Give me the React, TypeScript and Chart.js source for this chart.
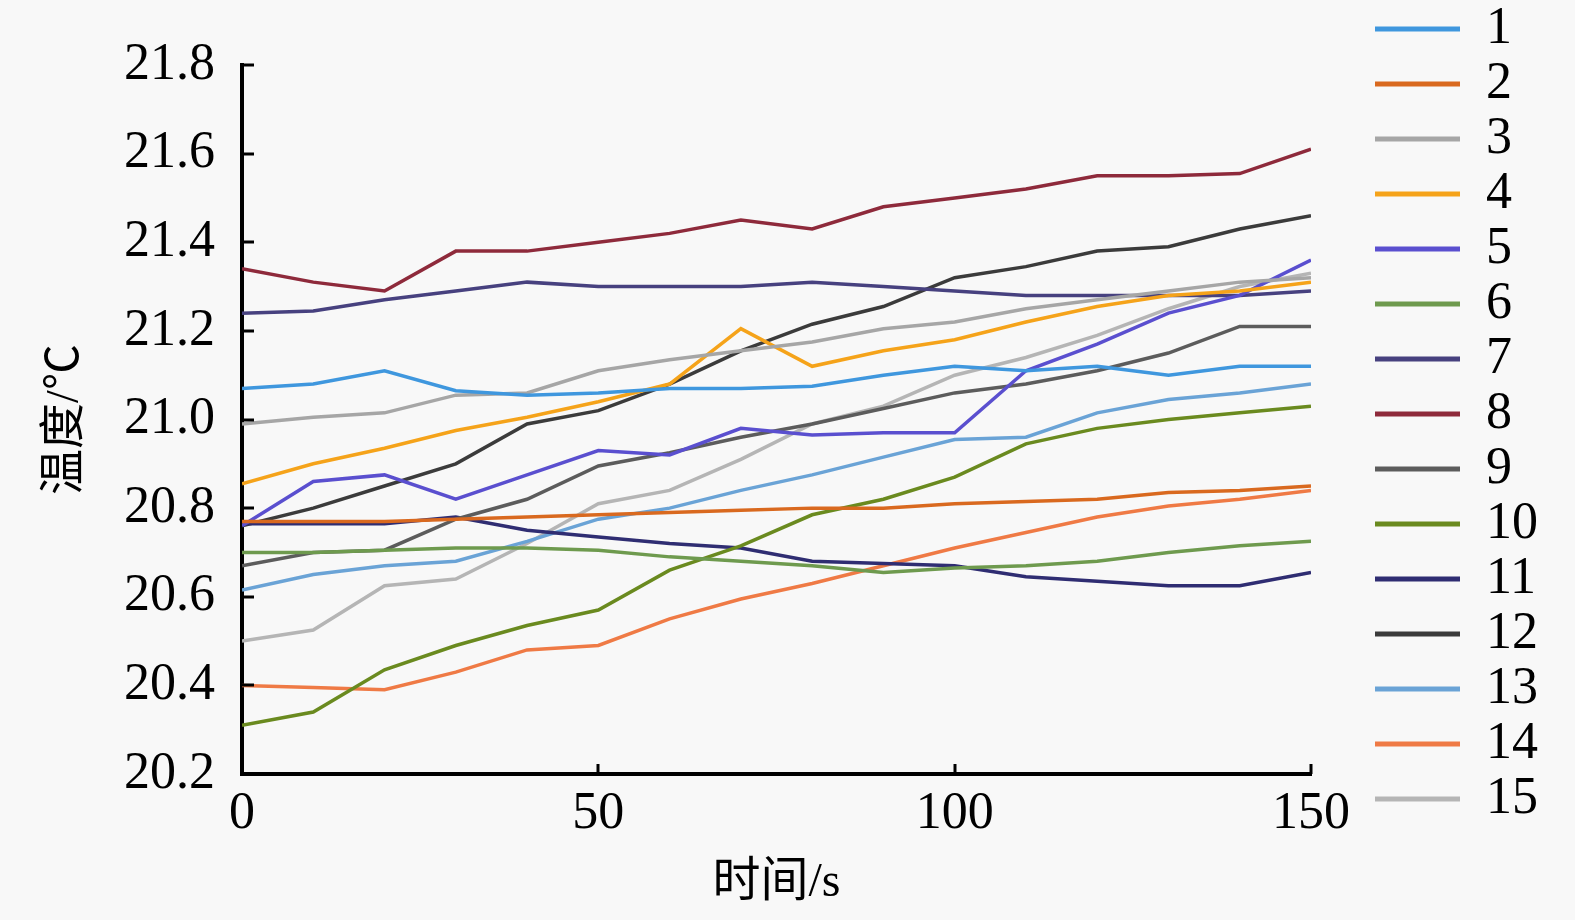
import React, { useEffect, useRef } from 'react';
import { Chart, registerables } from 'chart.js';

Chart.register(...registerables);

const times = [0, 10, 20, 30, 40, 50, 60, 70, 80, 90, 100, 110, 120, 130, 140, 150];

const s1 = [21.07, 21.08, 21.11, 21.065, 21.055, 21.06, 21.07, 21.07, 21.075, 21.1, 21.12, 21.11, 21.12, 21.1, 21.12, 21.12];
const s2 = [20.77, 20.77, 20.77, 20.775, 20.78, 20.785, 20.79, 20.795, 20.8, 20.8, 20.81, 20.815, 20.82, 20.835, 20.84, 20.85];
const s3 = [20.99, 21.005, 21.015, 21.055, 21.06, 21.11, 21.135, 21.155, 21.175, 21.205, 21.22, 21.25, 21.27, 21.29, 21.31, 21.32];
const s4 = [20.855, 20.9, 20.935, 20.975, 21.005, 21.04, 21.08, 21.205, 21.12, 21.155, 21.18, 21.22, 21.255, 21.28, 21.29, 21.31];
const s5 = [20.76, 20.86, 20.875, 20.82, 20.875, 20.93, 20.92, 20.98, 20.965, 20.97, 20.97, 21.11, 21.17, 21.24, 21.28, 21.36];
const s6 = [20.7, 20.7, 20.705, 20.71, 20.71, 20.705, 20.69, 20.68, 20.67, 20.655, 20.665, 20.67, 20.68, 20.7, 20.715, 20.725];
const s7 = [21.24, 21.245, 21.27, 21.29, 21.31, 21.3, 21.3, 21.3, 21.31, 21.3, 21.29, 21.28, 21.28, 21.28, 21.28, 21.29];
const s8 = [21.34, 21.31, 21.29, 21.38, 21.38, 21.4, 21.42, 21.45, 21.43, 21.48, 21.5, 21.52, 21.55, 21.55, 21.555, 21.61];
const s9 = [20.67, 20.7, 20.705, 20.775, 20.82, 20.895, 20.925, 20.96, 20.99, 21.025, 21.06, 21.08, 21.11, 21.15, 21.21, 21.21];
const s10 = [20.31, 20.34, 20.435, 20.49, 20.535, 20.57, 20.66, 20.715, 20.785, 20.82, 20.87, 20.945, 20.98, 21.0, 21.015, 21.03];
const s11 = [20.765, 20.765, 20.765, 20.78, 20.75, 20.735, 20.72, 20.71, 20.68, 20.675, 20.67, 20.645, 20.635, 20.625, 20.625, 20.655];
const s12 = [20.76, 20.8, 20.85, 20.9, 20.99, 21.02, 21.08, 21.155, 21.215, 21.255, 21.32, 21.345, 21.38, 21.39, 21.43, 21.46];
const s13 = [20.615, 20.65, 20.67, 20.68, 20.725, 20.775, 20.8, 20.84, 20.875, 20.915, 20.955, 20.96, 21.015, 21.045, 21.06, 21.08];
const s14 = [20.4, 20.395, 20.39, 20.43, 20.48, 20.49, 20.55, 20.595, 20.63, 20.67, 20.71, 20.745, 20.78, 20.805, 20.82, 20.84];
const s15 = [20.5, 20.525, 20.625, 20.64, 20.72, 20.81, 20.84, 20.91, 20.99, 21.03, 21.1, 21.14, 21.19, 21.25, 21.3, 21.33];

const seriesNames = ['1', '2', '3', '4', '5', '6', '7', '8', '9', '10', '11', '12', '13', '14', '15'];
const seriesValues = [s1, s2, s3, s4, s5, s6, s7, s8, s9, s10, s11, s12, s13, s14, s15];
const seriesColors = [
  '#3f97de', '#d9691f', '#a6a6a6', '#f5a31a', '#5a4fcf',
  '#6e9a4e', '#47417f', '#8e2a3b', '#5c5c5c', '#6a8a1f',
  '#2f2d72', '#3b3b3b', '#6aa3d6', '#ef7a45', '#b5b5b5',
];

const yTicks = [20.2, 20.4, 20.6, 20.8, 21.0, 21.2, 21.4, 21.6, 21.8];
const xTicks = [0, 50, 100, 150];
const xTitle = '时间/s';
const yTitle = '温度/℃';

const serif = '"Liberation Serif", "Times New Roman", "Noto Sans CJK SC", serif';

const inwardTicks = {
  id: 'inwardTicks',
  afterDraw(chart: any) {
    const { ctx, chartArea, scales } = chart;
    ctx.save();
    ctx.strokeStyle = '#000';
    ctx.lineWidth = 3;
    yTicks.forEach((v) => {
      const y = Math.round(scales.y.getPixelForValue(v));
      ctx.beginPath();
      ctx.moveTo(chartArea.left, y);
      ctx.lineTo(chartArea.left + 12, y);
      ctx.stroke();
    });
    xTicks.forEach((v) => {
      const x = Math.round(scales.x.getPixelForValue(v));
      ctx.beginPath();
      ctx.moveTo(x, chartArea.bottom);
      ctx.lineTo(x, chartArea.bottom - 10);
      ctx.stroke();
    });
    ctx.restore();
  },
};

export default function App() {
  const ref = useRef<HTMLCanvasElement>(null);

  useEffect(() => {
    if (!ref.current) return;
    const datasets = seriesValues.map((vals, i) => ({
      label: seriesNames[i],
      data: times.map((t, j) => ({ x: t, y: vals[j] })),
      borderColor: seriesColors[i],
      backgroundColor: seriesColors[i],
      borderWidth: 3.5,
      pointRadius: 0,
      tension: 0,
      yAxisID: 'y',
      xAxisID: 'x',
    }));

    const chart = new Chart(ref.current, {
      type: 'line',
      data: { datasets },
      plugins: [inwardTicks],
      options: {
        animation: false,
        responsive: false,
        devicePixelRatio: 1,
        layout: { padding: { left: 0, right: 27, top: 0, bottom: 0 } },
        plugins: {
          tooltip: { enabled: false },
          title: {
            display: true,
            text: '',
            fullSize: false,
            font: { size: 10, lineHeight: 1.2 },
            padding: { top: 53, bottom: 0 },
          },
          legend: {
            display: true,
            position: 'right',
            align: 'start',
            labels: {
              font: { family: serif, size: 52 },
              color: '#000',
              boxWidth: 85,
              boxHeight: 5,
              padding: 3,
              generateLabels: (c: any) =>
                c.data.datasets.map((ds: any, i: number) => ({
                  text: ds.label,
                  fillStyle: ds.borderColor,
                  strokeStyle: ds.borderColor,
                  lineWidth: 0,
                  hidden: false,
                  datasetIndex: i,
                  fontColor: '#000',
                })),
            },
          },
        },
        scales: {
          x: {
            type: 'linear',
            position: 'bottom',
            min: 0,
            max: 150,
            afterBuildTicks: (s: any) => {
              s.ticks = xTicks.map((v) => ({ value: v }));
            },
            afterFit: (s: any) => {
              s.height = 146;
            },
            grid: { display: false, drawTicks: false },
            border: { display: true, color: '#000', width: 4 },
            ticks: {
              font: { family: serif, size: 52 },
              color: '#000',
              padding: 9,
              maxRotation: 0,
              autoSkip: false,
              callback: (v: any) => String(v),
            },
            title: {
              display: true,
              text: xTitle,
              color: '#000',
              font: { family: serif, size: 48 },
              padding: { top: 0, bottom: 8 },
            },
          },
          y: {
            type: 'linear',
            position: 'left',
            min: 20.2,
            max: 21.8,
            afterBuildTicks: (s: any) => {
              s.ticks = yTicks.map((v) => ({ value: v }));
            },
            afterFit: (s: any) => {
              s.width = 242;
            },
            grid: { display: false, drawTicks: false },
            border: { display: true, color: '#000', width: 4 },
            ticks: {
              font: { family: serif, size: 52 },
              color: '#000',
              padding: 27,
              autoSkip: false,
              callback: (v: any) => Number(v).toFixed(1),
            },
            title: {
              display: true,
              text: yTitle,
              color: '#000',
              font: { family: serif, size: 46 },
              padding: { top: 38, bottom: 0 },
            },
          },
          yRightSpacer: {
            type: 'linear',
            position: 'right',
            display: true,
            grid: { display: false, drawTicks: false },
            border: { display: false },
            ticks: { display: false },
            afterFit: (s: any) => {
              s.width = 61;
            },
          },
        },
      },
    } as any);

    return () => chart.destroy();
  }, []);

  return (
    <div
      style={{
        position: 'absolute',
        left: 0,
        top: 0,
        width: 1575,
        height: 920,
        background: '#f8f8f8',
      }}
    >
      <canvas ref={ref} width={1575} height={920} style={{ width: 1575, height: 920, display: 'block' }} />
    </div>
  );
}
